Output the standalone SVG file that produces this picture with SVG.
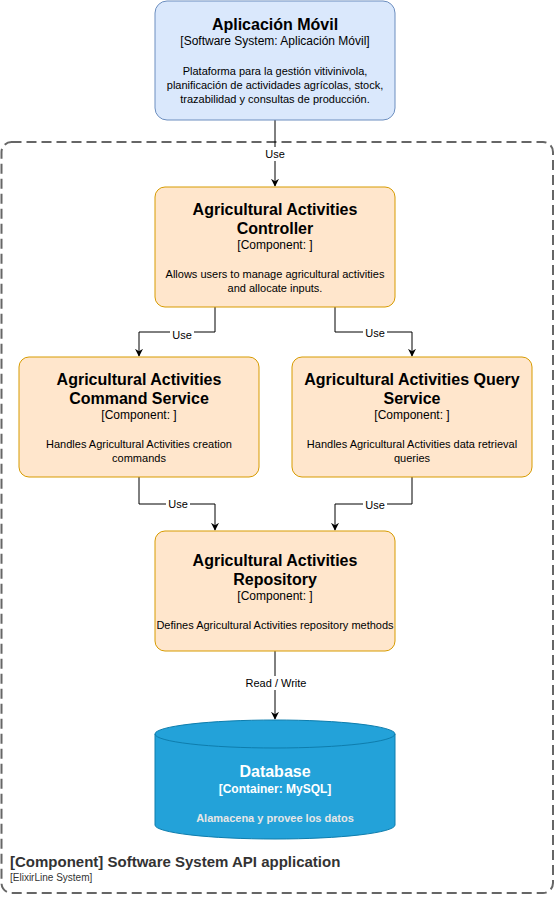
<svg xmlns="http://www.w3.org/2000/svg" width="556" height="897" viewBox="0 0 556 897">
<style>
text{font-family:"Liberation Sans",Arial,sans-serif;text-anchor:middle;fill:#000}
.t{font-size:16px;font-weight:bold}
.s{font-size:12px}
.d{font-size:11px}
.comp{fill:#ffe6cc;stroke:#d79b00;stroke-width:1}
.edge{fill:none;stroke:#000;stroke-width:1}
.lbl{font-size:11px}
.w{fill:#fff}
</style>
<defs>
<marker id="arr" viewBox="0 0 10 10" refX="9" refY="5" markerWidth="8" markerHeight="8" markerUnits="userSpaceOnUse" orient="auto">
<path d="M0,0 L10,5 L0,10 L3,5 Z" fill="#000"/>
</marker>
</defs>
<g id="boundary">
<rect x="1.5" y="142" width="551.5" height="751" rx="10" fill="none" stroke="#666" stroke-width="2" stroke-dasharray="10 5"/>
<text x="10" y="867" style="text-anchor:start;font-size:15px;font-weight:bold;fill:#333">[Component] Software System API application</text>
<text x="10" y="881" style="text-anchor:start;font-size:10px;fill:#333">[ElixirLine System]</text>
</g>
<g id="connectors">
<path class="edge" d="M275,120 V186" marker-end="url(#arr)"/>
<rect x="263" y="147" width="24" height="14" fill="#fff"/>
<text class="lbl" x="275" y="158">Use</text>
<path class="edge" d="M215,307 V332 H139 V356" marker-end="url(#arr)"/>
<rect x="170" y="328" width="24" height="14" fill="#fff"/>
<text class="lbl" x="182" y="339">Use</text>
<path class="edge" d="M335,307 V332 H412 V356" marker-end="url(#arr)"/>
<rect x="363" y="326" width="24" height="14" fill="#fff"/>
<text class="lbl" x="375" y="337">Use</text>
<path class="edge" d="M139,477 V504 H215 V530" marker-end="url(#arr)"/>
<rect x="166" y="497" width="24" height="14" fill="#fff"/>
<text class="lbl" x="178" y="508">Use</text>
<path class="edge" d="M412,477 V504 H335 V530" marker-end="url(#arr)"/>
<rect x="363" y="498" width="24" height="14" fill="#fff"/>
<text class="lbl" x="375" y="509">Use</text>
<path class="edge" d="M275,651 V719" marker-end="url(#arr)"/>
<rect x="243" y="676" width="64" height="14" fill="#fff"/>
<text class="lbl" x="276" y="687">Read / Write</text>
</g>
<g id="app">
<rect x="155" y="1" width="240" height="119" rx="12" fill="#dae8fc" stroke="#6c8ebf"/>
<text class="t" x="275" y="30">Aplicación Móvil</text>
<text class="s" x="275" y="45">[Software System: Aplicación Móvil]</text>
<text class="d" x="275" y="75">Plataforma para la gestión vitivinivola,</text>
<text class="d" x="275" y="89">planificación de actividades agrícolas, stock,</text>
<text class="d" x="275" y="103">trazabilidad y consultas de producción.</text>
</g>
<g id="controller">
<rect class="comp" x="155" y="187" width="240" height="120" rx="10"/>
<text class="t" x="275" y="215">Agricultural Activities</text>
<text class="t" x="275" y="234">Controller</text>
<text class="s" x="275" y="249">[Component: ]</text>
<text class="d" x="275" y="278">Allows users to manage agricultural activities</text>
<text class="d" x="275" y="292">and allocate inputs.</text>
</g>
<g id="command">
<rect class="comp" x="19" y="357" width="240" height="120" rx="10"/>
<text class="t" x="139" y="385">Agricultural Activities</text>
<text class="t" x="139" y="404">Command Service</text>
<text class="s" x="139" y="419">[Component: ]</text>
<text class="d" x="139" y="448">Handles Agricultural Activities creation</text>
<text class="d" x="139" y="462">commands</text>
</g>
<g id="query">
<rect class="comp" x="292" y="357" width="240" height="120" rx="10"/>
<text class="t" x="412" y="385">Agricultural Activities Query</text>
<text class="t" x="412" y="404">Service</text>
<text class="s" x="412" y="419">[Component: ]</text>
<text class="d" x="412" y="448">Handles Agricultural Activities data retrieval</text>
<text class="d" x="412" y="462">queries</text>
</g>
<g id="repository">
<rect class="comp" x="155" y="531" width="240" height="120" rx="10"/>
<text class="t" x="275" y="566">Agricultural Activities</text>
<text class="t" x="275" y="585">Repository</text>
<text class="s" x="275" y="600">[Component: ]</text>
<text class="d" x="275" y="629">Defines Agricultural Activities repository methods</text>
</g>
<g id="database">
<path d="M155,734 A120,14 0 0 1 395,734 V825 A120,14 0 0 1 155,825 Z" fill="#23a2d9" stroke="#0e7dad"/>
<path d="M155,734 A120,14 0 0 0 395,734" fill="none" stroke="#0e7dad"/>
<text class="t w" x="275" y="777">Database</text>
<text class="s w" x="275" y="793" font-weight="bold">[Container: MySQL]</text>
<text class="d" x="275" y="822" font-weight="bold" style="fill:#e6e6e6">Alamacena y provee los datos</text>
</g>
</svg>
